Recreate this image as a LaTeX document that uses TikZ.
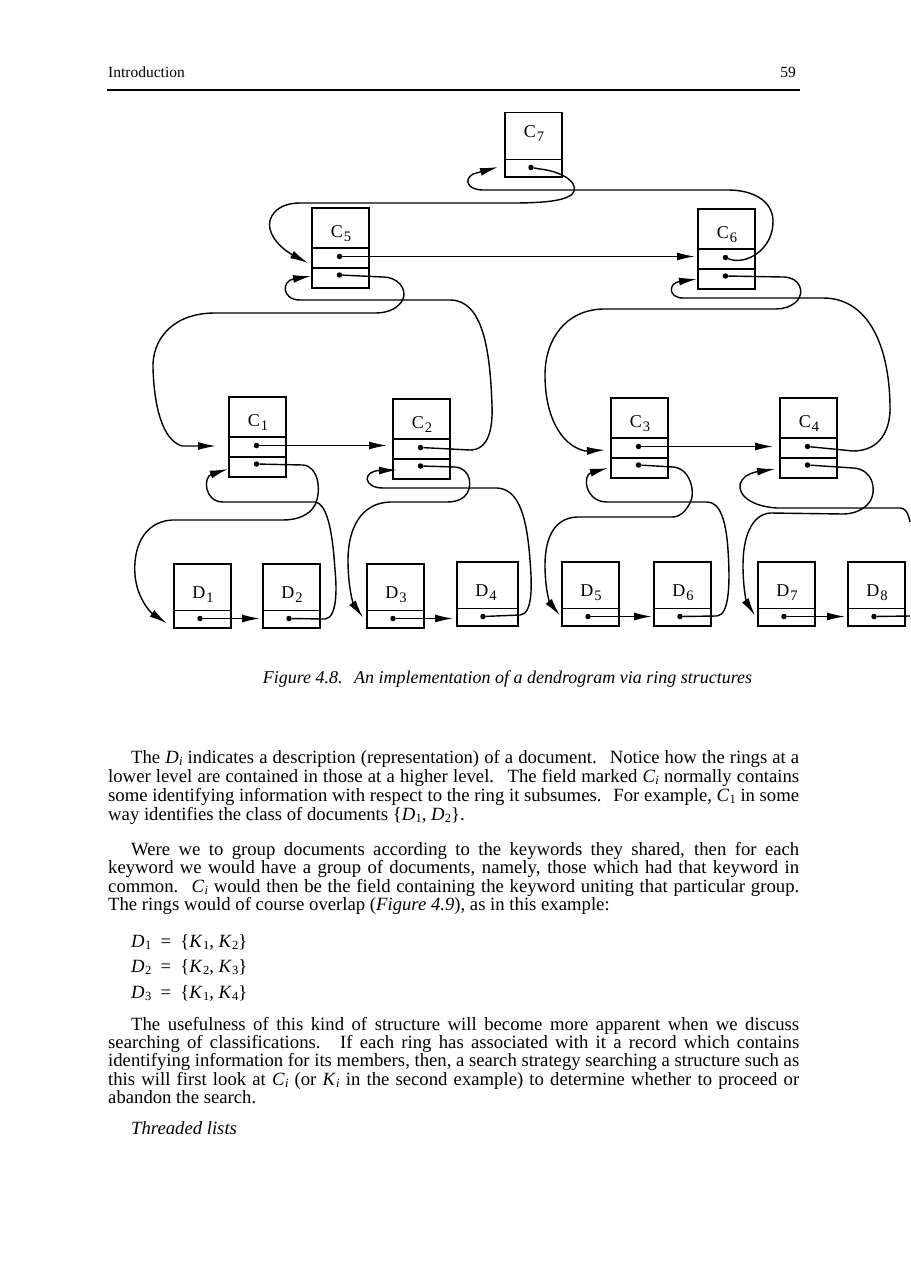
\documentclass[tikz,border=0pt]{standalone}
\usepackage{fontspec}
\setmainfont{Liberation Serif}
\usetikzlibrary{arrows.meta,calc}
\newcommand\vs[2]{\textit{#1}\kern0.3pt\raisebox{-0.14em}{\fontsize{12.5}{12.5}\selectfont #2}}
\newcommand\blab[2]{#1\kern1pt\raisebox{-4.8pt}{\fontsize{14.5}{14.5}\selectfont #2}}
\newcommand\cboxx[4]{%
  \node[draw,boxln,minimum width=57pt,minimum height=80pt,inner sep=0,anchor=north west] (#1) at (#2,#3) {};
  \draw[boxln] ($(#1.north west)+(0,41)$) -- ($(#1.north east)+(0,41)$);
  \draw[boxln] ($(#1.north west)+(0,61)$) -- ($(#1.north east)+(0,61)$);
  \node[lbl,anchor=base] (#1l) at ($(#1.north west)+(30,30)$) {\blab{C}{#4}};
  \node[dotn] (#1a) at ($(#1.north west)+(28.5,49.5)$) {};
  \node[dotn] (#1b) at ($(#1.north west)+(28.5,68)$) {};
  \coordinate (#1p) at ($(#1.north west)+(0,50)$);
  \coordinate (#1q) at ($(#1.north west)+(0,69)$);
}
\newcommand\dboxx[7]{% name x y letter num width labelbaseline
  \node[draw,boxln,minimum width=#6pt,minimum height=64pt,inner sep=0,anchor=north west] (#1) at (#2,#3) {};
  \draw[boxln] ($(#1.north west)+(0,47.5)$) -- ($(#1.north east)+(0,47.5)$);
  \node[lbl,anchor=base] (#1l) at ($(#1.north west)+(30,#7)$) {\blab{#4}{#5}};
  \node[dotn] (#1a) at ($(#1.north west)+(27,55.5)$) {};
  \coordinate (#1p) at ($(#1.north west)+(0,55.5)$);
}
\begin{document}
\begin{tikzpicture}[x=1pt,y=-1pt,
  boxln/.style={line width=1.5pt},
  conn/.style={line width=1.4pt},
  arr/.style={line width=1.4pt,-{Latex[length=18pt,width=8pt]}},
  dotn/.style={circle,fill,inner sep=0,minimum size=5.5pt},
  lbl/.style={font=\fontsize{18}{18}\selectfont,inner sep=0},
  bodyl/.style={font=\fontsize{18.7}{18.7}\selectfont,inner sep=0,anchor=base west,text height=12.5pt,text depth=3.5pt},
]
\fill[white] (0,0) rectangle (910,1287);
\useasboundingbox (0,0) rectangle (910,1287);

% header
\node[anchor=base west,inner sep=0,font=\fontsize{15.5}{15.5}\selectfont] (hd) at (108,78) {Introduction};
\node[anchor=base east,inner sep=0,font=\fontsize{15.5}{15.5}\selectfont] (pg) at (796,78) {59};
\draw[line width=1.4pt] (107,90) -- (800,90);

% boxes
\dboxx{c7}{504}{112}{C}{7}{57}{25}
\cboxx{c5}{311}{207}{5}
\cboxx{c6}{697}{208}{6}
\cboxx{c1}{228}{396}{1}
\cboxx{c2}{392}{398}{2}
\cboxx{c3}{610}{397}{3}
\cboxx{c4}{779}{397}{4}
\dboxx{d1}{173}{563}{D}{1}{57}{35}
\dboxx{d2}{262}{563}{D}{2}{57}{35}
\dboxx{d3}{366}{563}{D}{3}{57}{35}
\dboxx{d4}{456}{561}{D}{4}{61}{35}
\dboxx{d5}{561}{561}{D}{5}{57}{35}
\dboxx{d6}{653}{561}{D}{6}{57}{35}
\dboxx{d7}{757}{561}{D}{7}{57}{35}
\dboxx{d8}{847}{561}{D}{8}{57}{35}
\coordinate (offA) at (910,616);
\coordinate (offB) at (910,522);

% ring C7
\draw[arr] (c7a) -- (540,169) .. controls (566,172) and (582,186) .. (571,195) .. controls (562,202) and (535,203) .. (512,203) -- (300,203) .. controls (276,203) and (267,218) .. (270,229) .. controls (273,242) and (287,252) .. ($(c5p)+(-3,6)$);
\draw[arr,shorten >=2pt] (c5a) -- (c5a -| c6.west);
\draw[arr] (c6a) .. controls (745,266) and (774,250) .. (773,220) .. controls (772,200) and (752,190) .. (728,190) -- (483,190) .. controls (468,190) and (463,180) .. (473,174) -- ($(c7p)+(-6,-0.5)$);

% ring C5
\draw[arr] (c5b) -- (383,277) .. controls (398,277) and (407,289) .. (403,299) .. controls (399,308) and (388,313) .. (376,313) -- (215,313) .. controls (172,313) and (152,340) .. (153,368) .. controls (154,405) and (162,440) .. (182,446) -- ($(c1p)+(-12,0)$);
\draw[arr,shorten >=5pt] (c1a) -- (c1a -| c2.west);
\draw[arr] (c2a) -- (470,450) .. controls (488,450) and (493,430) .. (492,405) .. controls (490,350) and (483,300) .. (450,300) -- (300,300) .. controls (282,300) and (281,281) .. ($(c5q)+(0,0)$);

% ring C6
\draw[arr] (c6b) -- (783,277) .. controls (800,277) and (805,292) .. (797,301) .. controls (791,307) and (783,309) .. (776,309) -- (603,309) .. controls (565,310) and (545,340) .. (545,375) .. controls (545,415) and (560,445) .. (585,451) -- ($(c3p)+(-5,3)$);
\draw[arr,shorten >=6pt] (c3a) -- (c3a -| c4.west);
\draw[arr] (c4a) -- (853,451) .. controls (880,451) and (891,430) .. (890,405) .. controls (889,345) and (868,298) .. (823,298) -- (683,298) .. controls (668,298) and (668,283) .. ($(c6q)+(0,2)$);

% ring C1
\draw[arr] (c1b) -- (303,465) .. controls (318,466) and (322,490) .. (315,505) .. controls (309,516) and (296,520) .. (283,520) -- (172,520) .. controls (142,522) and (133,550) .. (135,575) .. controls (137,598) and (150,612) .. ($(d1p)+(-6,5)$);
\draw[arr,shorten >=2pt] (d1a) -- (d1a -| d2.west);
\draw[arr] (d2a) -- (325,619) .. controls (337,618) and (337,590) .. (335,570) .. controls (333,540) and (329,504) .. (315,502) -- (223,502) .. controls (204,502) and (203,477) .. ($(c1q)+(0,4)$);

% ring C2
\draw[arr] (c2b) -- (455,467) .. controls (471,468) and (474,488) .. (464,497) .. controls (459,501) and (453,502) .. (447,502) -- (390,502) .. controls (360,503) and (348,530) .. (348,560) .. controls (348,590) and (354,605) .. ($(d3p)+(-3,-1)$);
\draw[arr,shorten >=3pt] (d3a) -- (d3a -| d4.west);
\draw[arr] (d4a) -- (520,615) .. controls (533,614) and (532,585) .. (530,560) .. controls (527,520) and (520,489) .. (497,488) -- (383,488) .. controls (363,488) and (362,471) .. ($(c2q)+(5,3)$);

% ring C3
\draw[arr] (c3b) -- (673,467) .. controls (690,468) and (696,492) .. (690,503) .. controls (685,512) and (680,517) .. (672,517) -- (577,517) .. controls (553,518) and (545,540) .. (545,565) .. controls (545,590) and (550,603) .. ($(d5p)+(-1,-1)$);
\draw[arr,shorten >=1pt] (d5a) -- (d5a -| d6.west);
\draw[arr] (d6a) -- (717,616) .. controls (730,615) and (730,580) .. (728,550) .. controls (726,520) and (720,502) .. (707,502) -- (607,502) .. controls (585,502) and (582,475) .. ($(c3q)+(-2,2)$);

% ring C4
\draw[arr] (c4b) -- (853,468) .. controls (875,469) and (878,495) .. (867,505) .. controls (860,512) and (850,514) .. (843,514) -- (770,513) .. controls (750,515) and (743,540) .. (743,565) .. controls (743,590) and (747,603) .. ($(d7p)+(-2,-1)$);
\draw[arr,shorten >=2pt] (d7a) -- (d7a -| d8.west);
\draw[conn] (d8a) -- (offA);
\draw[arr] (offB) .. controls (908,512) and (905,508) .. (900,508) -- (777,508) .. controls (745,506) and (735,490) .. (742,480) .. controls (746,474) and (755,472) .. ($(c4q)+(-4,3)$);

% caption
\node[anchor=base,inner sep=0,font=\fontsize{18}{18}\selectfont\itshape] (cap) at (507.5,683) {Figure 4.8.\hspace{0.3em} An implementation of a dendrogram via ring structures};

% paragraph 1
\node[bodyl] (p1a) at (131,763) {\makebox[668pt][s]{The \vs{D}{\textit{i}} indicates a description (representation) of a document.\hspace{0.3em} Notice how the rings at a}};
\node[bodyl] (p1b) at (108,782) {\makebox[691pt][s]{lower level are contained in those at a higher level.\hspace{0.3em} The field marked \vs{C}{\textit{i}} normally contains}};
\node[bodyl] (p1c) at (108,801) {\makebox[691pt][s]{some identifying information with respect to the ring it subsumes.\hspace{0.3em} For example, \vs{C}{1} in some}};
\node[bodyl] (p1d) at (108,820) {way identifies the class of documents \{\vs{D}{1}, \vs{D}{2}\}.};

% paragraph 2
\node[bodyl] (p2a) at (131,855) {\makebox[668pt][s]{Were we to group documents according to the keywords they shared, then for each}};
\node[bodyl] (p2b) at (108,873.5) {\makebox[691pt][s]{keyword we would have a group of documents, namely, those which had that keyword in}};
\node[bodyl] (p2c) at (108,892) {\makebox[691pt][s]{common.\hspace{0.2em} \vs{C}{\textit{i}} would then be the field containing the keyword uniting that particular group.}};
\node[bodyl] (p2d) at (108,910.5) {The rings would of course overlap (\textit{Figure 4.9}), as in this example:};

% set lines
\node[bodyl] (e1) at (131,947) {\vs{D}{1}\enspace=\enspace\{\vs{K}{1}, \vs{K}{2}\}};
\node[bodyl] (e2) at (131,972) {\vs{D}{2}\enspace=\enspace\{\vs{K}{2}, \vs{K}{3}\}};
\node[bodyl] (e3) at (131,998) {\vs{D}{3}\enspace=\enspace\{\vs{K}{1}, \vs{K}{4}\}};

% paragraph 3
\node[bodyl] (p3a) at (131,1030) {\makebox[668pt][s]{The usefulness of this kind of structure will become more apparent when we discuss}};
\node[bodyl] (p3b) at (108,1048.3) {\makebox[691pt][s]{searching of classifications.\hspace{0.3em} If each ring has associated with it a record which contains}};
\node[bodyl] (p3c) at (108,1066.6) {\makebox[691pt][s]{identifying information for its members, then, a search strategy searching a structure such as}};
\node[bodyl] (p3d) at (108,1085) {\makebox[691pt][s]{this will first look at \vs{C}{\textit{i}} (or \vs{K}{\textit{i}} in the second example) to determine whether to proceed or}};
\node[bodyl] (p3e) at (108,1103.3) {abandon the search.};

\node[bodyl,font=\fontsize{18.7}{18.7}\selectfont\itshape] (thr) at (131,1134) {Threaded lists};
\end{tikzpicture}
\end{document}
